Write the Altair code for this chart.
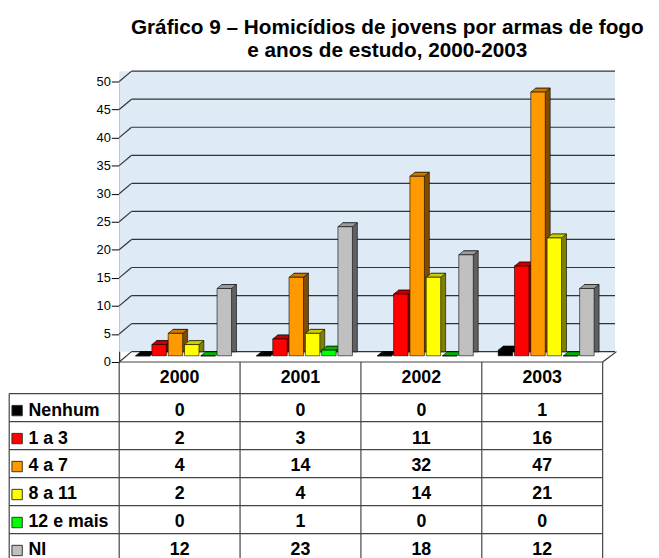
import altair as alt
import pandas as pd

# ---------------- data ----------------
years = ["2000", "2001", "2002", "2003"]
series = ["Nenhum", "1 a 3", "4 a 7", "8 a 11", "12 e mais", "NI"]
nenhum = [0, 0, 0, 1]
de_1_a_3 = [2, 3, 11, 16]
de_4_a_7 = [4, 14, 32, 47]
de_8_a_11 = [2, 4, 14, 21]
doze_e_mais = [0, 1, 0, 0]
ni = [12, 23, 18, 12]
y_ticks = list(range(0, 51, 5))

title_lines = ["Gráfico 9 – Homicídios de jovens por armas de fogo",
               "e anos de estudo, 2000-2003"]

# ---------------- styles ----------------
front_colors = ["#000000", "#FF0000", "#FF9900", "#FFFF00", "#00FF00", "#C0C0C0"]
top_colors = ["#000000", "#C40000", "#CC7A00", "#CCCC00", "#00B400", "#9C9C9C"]
side_colors = ["#000000", "#800000", "#804C00", "#808000", "#006A00", "#606060"]
FONT = "Liberation Sans"
GRID = "#333333"
TABLE_LINE = "#444444"

W, H = 651, 496
X_DOMAIN = [-0.92, 4.4]
U_PX = W / (X_DOMAIN[1] - X_DOMAIN[0])
LABEL_LEFT = -0.91
PITCH, BAR_W = 0.1348, 0.12
DX, DY = 4, -6.3        # bars sit at mid depth
SDX, SDY = 5, -4        # bar depth
WDX, WDY = 12.5, -10.5  # wall depth

all_vals = [nenhum, de_1_a_3, de_4_a_7, de_8_a_11, doze_e_mais, ni]
rows = []
for si, (s, vals) in enumerate(zip(series, all_vals)):
    for yi, (yr, v) in enumerate(zip(years, vals)):
        rows.append(dict(year=yr, yi=yi, series=s, si=si, value=v,
                         front=front_colors[si], top=top_colors[si], side=side_colors[si]))
df = pd.DataFrame(rows)
tick_df = pd.DataFrame({"v": y_ticks})
ser_df = pd.DataFrame({"series": series, "si": list(range(len(series))), "front": front_colors})
year_df = pd.DataFrame({"year": years, "yi": list(range(len(years)))})

XS = alt.Scale(domain=X_DOMAIN, nice=False, zero=False)
Y_PLOT = alt.Scale(domain=[0, 50], range=[301, 17], nice=False, zero=False)
Y_TAB = alt.Scale(domain=[0, 1, 7], range=[301, 333, 503], nice=False, zero=False)
yaxis = alt.Axis(values=y_ticks, offset=-(0 - X_DOMAIN[0]) * U_PX, tickSize=8, labelPadding=1,
                 labelFontSize=13, labelFont=FONT, labelColor="black", domainColor="black",
                 tickColor="black", grid=False, title=None)


def xq(f):
    return alt.X(f, type="quantitative", scale=XS, axis=None)


def yp(f):
    return alt.Y(f, type="quantitative", scale=Y_PLOT, axis=yaxis)


def yt(f):
    return alt.Y(f, type="quantitative", scale=Y_TAB, axis=None)


n_years = len(years)

# ---------------- plot part ----------------
wall = alt.Chart(tick_df).transform_aggregate(
    v0="min(v)", v1="max(v)"
).transform_calculate(u0="0", u1=str(n_years)).mark_rect(
    fill="#DEEBF7", x2Offset=WDX, yOffset=WDY, y2Offset=WDY
).encode(x=xq("u0"), x2="u1", y=yp("v0"), y2="v1")

grid = alt.Chart(tick_df).transform_calculate(u0="0", u1=str(n_years)).mark_rule(
    color=GRID, strokeWidth=1.2, xOffset=WDX, x2Offset=WDX, yOffset=WDY
).encode(x=xq("u0"), x2="u1", y=yp("v"))

side_wall = alt.Chart(tick_df).transform_calculate(u0="0").mark_rule(
    color=GRID, strokeWidth=1.2, x2Offset=WDX, y2Offset=WDY
).encode(x=xq("u0"), x2="u0", y=yp("v"), y2="v")

floor_right = alt.Chart(tick_df).transform_filter("datum.v == 0").transform_calculate(
    u=str(n_years)).mark_rule(
    color=GRID, strokeWidth=1.2, x2Offset=WDX + 1.5, y2Offset=WDY
).encode(x=xq("u"), x2="u", y=yp("v"), y2="v")

bars_base = alt.Chart(df).transform_calculate(
    left=f"datum.yi + 0.5 + (datum.si - 3) * {PITCH} + {(PITCH - BAR_W) / 2}",
    right=f"datum.left + {BAR_W}",
    center=f"datum.left + {BAR_W / 2}",
    base="0",
)

bar_side = bars_base.mark_rect(
    stroke="black", strokeWidth=0.6,
    xOffset=DX + SDX, x2Offset=DX + SDX, yOffset=DY + SDY, y2Offset=DY + SDY
).encode(x=xq("left"), x2="right", y=yp("value"), y2="base",
         fill=alt.Fill("side:N", scale=None))

hw = BAR_W * U_PX / 20
top_path = (f"M{-hw:.3f},0L{hw:.3f},0L{hw + SDX / 10:.3f},{SDY / 10:.3f}"
            f"L{-hw + SDX / 10:.3f},{SDY / 10:.3f}Z")
bar_top = bars_base.mark_point(
    shape=top_path, size=400, filled=True, opacity=1, stroke="black", strokeWidth=0.6,
    xOffset=DX, yOffset=DY
).encode(x=xq("center"), y=yp("value"), fill=alt.Fill("top:N", scale=None))

bar_front = bars_base.mark_rect(
    stroke="black", strokeWidth=0.6, xOffset=DX, x2Offset=DX, yOffset=DY, y2Offset=DY
).encode(x=xq("left"), x2="right", y=yp("value"), y2="base",
         fill=alt.Fill("front:N", scale=None))

plot = alt.layer(wall, grid, side_wall, floor_right, bar_side, bar_top, bar_front)

# ---------------- table part ----------------
n_rows = len(series) + 1
h_df = pd.DataFrame({"r": list(range(n_rows + 1))})
hrules = alt.Chart(h_df).transform_calculate(
    xs=f"datum.r == 0 ? 0 : {LABEL_LEFT}", xe=str(n_years)
).mark_rule(color=TABLE_LINE, strokeWidth=1.2).encode(x=xq("xs"), x2="xe", y=yt("r"))

v_df = pd.DataFrame({"c": [-1] + list(range(n_years + 1))})
vrules = alt.Chart(v_df).transform_calculate(
    u=f"datum.c < 0 ? {LABEL_LEFT} : datum.c",
    r0="datum.c < 0 ? 1 : 0",
    r1=str(n_rows),
).mark_rule(color=TABLE_LINE, strokeWidth=1.2).encode(x=xq("u"), y=yt("r0"), y2="r1")

header_text = alt.Chart(year_df).transform_calculate(
    xc="datum.yi + 0.5", rc="0.5"
).mark_text(font=FONT, fontSize=18, fontWeight="bold", color="black", baseline="middle",
            align="center").encode(x=xq("xc"), y=yt("rc"), text="year:N")

cell_text = alt.Chart(df).transform_calculate(
    xc="datum.yi + 0.5", rc="datum.si + 1.5"
).mark_text(font=FONT, fontSize=18, fontWeight="bold", color="black", baseline="middle",
            align="center", dy=3).encode(x=xq("xc"), y=yt("rc"), text="value:Q")

label_text = alt.Chart(ser_df).transform_calculate(
    xl=str(LABEL_LEFT), rc="datum.si + 1.5"
).mark_text(font=FONT, fontSize=18, fontWeight="bold", color="black", baseline="middle",
            align="left", dx=19.5, dy=3).encode(x=xq("xl"), y=yt("rc"), text="series:N")

swatches = alt.Chart(ser_df).transform_calculate(
    xl=str(LABEL_LEFT), rc="datum.si + 1.5"
).mark_square(size=110, opacity=1, filled=True, stroke="#333333", strokeWidth=1,
              xOffset=8, yOffset=3).encode(x=xq("xl"), y=yt("rc"),
                                           fill=alt.Fill("front:N", scale=None))

table = alt.layer(hrules, vrules, header_text, cell_text, label_text, swatches)

chart = alt.layer(plot, table).resolve_scale(y="independent").properties(
    width=W, height=H,
    autosize=alt.AutoSizeParams(type="none"),
    padding={"left": 0, "top": 54, "right": 0, "bottom": 0},
    background="white",
    title=alt.TitleParams(text=title_lines, fontSize=21, fontWeight="bold", font=FONT,
                          color="black", anchor="middle", frame="group", dx=58.5,
                          offset=4, lineHeight=23),
).configure_view(stroke=None)

chart.save("out.html", embed_options={"renderer": "svg", "actions": False})
